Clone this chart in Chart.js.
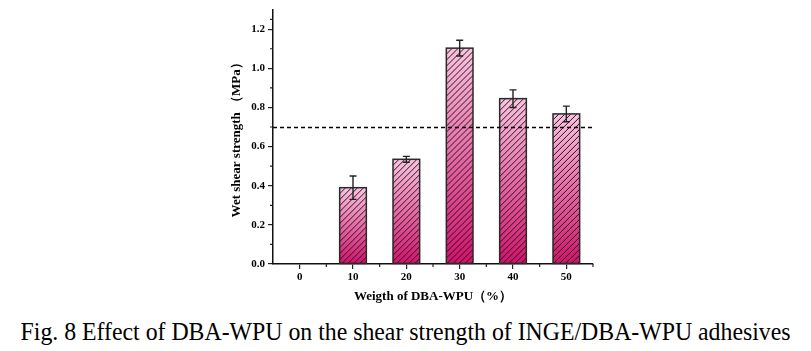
<!DOCTYPE html>
<html>
<head>
  <title>Wet shear strength</title>
  <script src="https://cdn.jsdelivr.net/npm/chart.js"></script>
  <style>
    body { margin: 0; background: #fff; }
    #wrap { position: absolute; left: 0; top: 0; width: 811px; height: 305px; }
    #caption { position: absolute; left: 0; top: 318px; width: 811px; text-align: center;
               font-family: "Liberation Serif", serif; font-size: 25px; white-space: nowrap; color: #000; }
    #caption span { display: inline-block; transform-origin: center; }
  </style>
</head>
<body>
  <div id="wrap"><canvas id="shearChart"></canvas></div>
  <div id="caption"><span id="capText">Fig. 8 Effect of DBA-WPU on the shear strength of INGE/DBA-WPU adhesives</span></div>

  <script>
    const categories = ["0", "10", "20", "30", "40", "50"];
    const strength = [null, 0.39, 0.535, 1.103, 0.845, 0.767];
    const errors = [null, 0.06, 0.015, 0.04, 0.045, 0.04];
    const refLine = 0.7;
    const yMin = 0, yMax = 1.3, yStep = 0.2;

    const serif = "'Liberation Serif', 'Times New Roman', serif";

    function barGradient(c) {
      const chart = c.chart;
      const y = chart.scales.y;
      const v = strength[c.dataIndex];
      if (!y || v == null) return "#e0407f";
      const top = y.getPixelForValue(v);
      const bot = y.getPixelForValue(0);
      const g = chart.ctx.createLinearGradient(0, top, 0, bot);
      g.addColorStop(0, "#fcc3e0");
      g.addColorStop(1, "#d4106b");
      return g;
    }

    // hatching, error bars, reference line, minor ticks
    const extras = {
      id: "extras",
      afterDatasetsDraw(chart) {
        const ctx = chart.ctx;
        const xs = chart.scales.x, ys = chart.scales.y;
        const area = chart.chartArea;
        const meta = chart.getDatasetMeta(0);
        meta.data.forEach((bar, i) => {
          if (strength[i] == null) return;
          const left = bar.x - bar.width / 2, top = bar.y, h = bar.base - bar.y;
          ctx.save();
          ctx.beginPath();
          ctx.rect(left, top, bar.width, h);
          ctx.clip();
          ctx.strokeStyle = "#1a1a1a";
          ctx.lineWidth = 1;
          for (let k = -h; k < bar.width + h; k += 6) {
            ctx.beginPath();
            ctx.moveTo(left + k, bar.base);
            ctx.lineTo(left + k + h, top);
            ctx.stroke();
          }
          ctx.restore();
          ctx.save();
          ctx.strokeStyle = "#2a2a2a";
          ctx.lineWidth = 1.5;
          ctx.strokeRect(left, top, bar.width, h);
          ctx.restore();
        });

        // error bars
        ctx.save();
        ctx.strokeStyle = "#222";
        ctx.lineWidth = 1.4;
        strength.forEach((v, i) => {
          if (v == null) return;
          const x = xs.getPixelForValue(i);
          const yt = ys.getPixelForValue(v + errors[i]);
          const yb = ys.getPixelForValue(v - errors[i]);
          ctx.beginPath();
          ctx.moveTo(x, yt); ctx.lineTo(x, yb);
          ctx.moveTo(x - 3.5, yt); ctx.lineTo(x + 3.5, yt);
          ctx.moveTo(x - 3.5, yb); ctx.lineTo(x + 3.5, yb);
          ctx.stroke();
        });
        ctx.restore();

        // dashed reference line
        ctx.save();
        ctx.strokeStyle = "#000";
        ctx.lineWidth = 1.5;
        ctx.setLineDash([4, 3]);
        const yr = Math.round(ys.getPixelForValue(refLine)) + 0.5;
        ctx.beginPath();
        ctx.moveTo(area.left, yr); ctx.lineTo(area.right, yr);
        ctx.stroke();
        ctx.restore();

        // minor ticks
        ctx.save();
        ctx.strokeStyle = "#222";
        ctx.lineWidth = 1.2;
        ctx.beginPath();
        for (let i = 0; i < categories.length; i++) {
          const xm = xs.getPixelForValue(i) + (xs.getPixelForValue(1) - xs.getPixelForValue(0)) / 2;
          ctx.moveTo(xm, area.bottom); ctx.lineTo(xm, area.bottom + 3);
        }
        const t = ys.ticks;
        for (let i = 0; i < t.length; i++) {
          const nextV = i + 1 < t.length ? t[i + 1].value : yMax;
          const ym = ys.getPixelForValue((t[i].value + Math.min(nextV, t[i].value + yStep)) / 2);
          if (ym < area.top) continue;
          ctx.moveTo(area.left, ym); ctx.lineTo(area.left - 3, ym);
        }
        ctx.stroke();
        ctx.restore();
      }
    };

    new Chart(document.getElementById("shearChart"), {
      type: "bar",
      data: {
        labels: categories,
        datasets: [{
          data: strength,
          backgroundColor: barGradient,
          borderWidth: 0,
          categoryPercentage: 0.5,
          barPercentage: 1
        }]
      },
      options: {
        responsive: true,
        maintainAspectRatio: false,
        animation: false,
        layout: { padding: { left: 225, right: 218, top: 9, bottom: 0 } },
        plugins: { legend: { display: false }, tooltip: { enabled: false } },
        scales: {
          x: {
            offset: true,
            afterFit: s => { s.height = 41; },
            grid: { display: true, drawOnChartArea: false, offset: false, tickLength: 5, color: "#222", lineWidth: 1.2 },
            border: { display: true, color: "#111", width: 1.5 },
            ticks: { color: "#000", padding: 2, font: { family: serif, weight: "bold", size: 11 } },
            title: { display: true, text: "Weigth of DBA-WPU（%）", color: "#000", padding: { top: 0, bottom: 1 },
                     font: { family: serif, weight: "bold", size: 13 } }
          },
          y: {
            min: yMin,
            max: yMax,
            afterFit: s => { s.width = 48; },
            grid: { display: true, drawOnChartArea: false, tickLength: 5, color: "#222", lineWidth: 1.2 },
            border: { display: true, color: "#111", width: 1.5 },
            ticks: {
              stepSize: yStep,
              includeBounds: false,
              padding: 3,
              color: "#000",
              font: { family: serif, weight: "bold", size: 11 },
              callback: v => v.toFixed(1)
            },
            title: { display: true, text: "Wet shear strength （MPa）", color: "#000", padding: { top: 4, bottom: 0 },
                     font: { family: serif, weight: "bold", size: 13 } }
          }
        }
      },
      plugins: [extras]
    });

    // fit caption to its width in the figure
    const cap = document.getElementById("capText");
    const w = cap.getBoundingClientRect().width;
    cap.style.transform = "scaleX(" + (770 / w) + ")";
  </script>
</body>
</html>
